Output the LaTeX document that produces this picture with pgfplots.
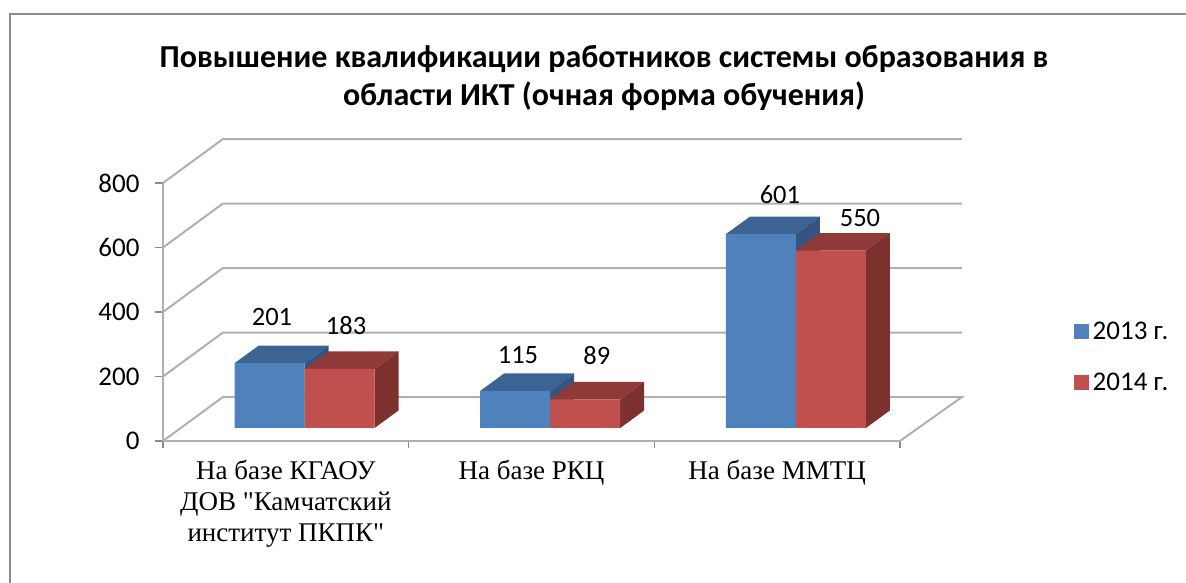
\documentclass[border=0pt]{standalone}
\usepackage{fontspec}
\setmainfont{Carlito}
\newfontfamily\catfont{Liberation Serif}
\usepackage{pgfplots}
\pgfplotsset{compat=1.18}
\definecolor{gridc}{HTML}{B0B0B0}
\definecolor{framec}{HTML}{8C8C8C}
\definecolor{blueF}{HTML}{4F81BD}
\definecolor{blueT}{HTML}{3D6393}
\definecolor{blueS}{HTML}{335580}
\definecolor{redF}{HTML}{C0504D}
\definecolor{redT}{HTML}{8F3A38}
\definecolor{redS}{HTML}{7D312F}
% depth of a bar in axis units
\def\dx{0.0977}\def\dy{54.3}\def\bw{0.285}
\newcommand\barfaces[4]{% left x, value, top colour, side colour
  \addplot[fill=#3,draw=none,forget plot] coordinates {(#1,#2) (#1+\bw,#2) (#1+\bw+\dx,#2+\dy) (#1+\dx,#2+\dy)};
  \addplot[fill=#4,draw=none,forget plot] coordinates {(#1+\bw,0) (#1+\bw+\dx,\dy) (#1+\bw+\dx,#2+\dy) (#1+\bw,#2)};
}
\pgfplotsset{squareleg/.style={legend image code/.code={\fill[##1] (0pt,-7.5pt) rectangle (15pt,7.5pt);\path (0pt,0pt) -- (17pt,0pt);}}}
\begin{document}
\begin{tikzpicture}[x=1pt,y=1pt]
\useasboundingbox (0,0) rectangle (1186,583);
\draw[framec,line width=1.6pt] (10,0) -- (10,569) -- (1186,569);
\node[align=center,font=\bfseries\fontsize{32}{38.5}\selectfont] at (604,505) {Повышение квалификации работников системы образования в\\области ИКТ (очная форма обучения)};
\begin{axis}[
  at={(163pt,142pt)},anchor=south west,scale only axis,
  width=737pt,height=258pt,
  xmin=0,xmax=3,ymin=0,ymax=800,clip=false,
  axis x line*=bottom,axis y line*=left,
  axis line style={gridc,line width=2pt},
  tick align=outside,
  ytick={0,200,400,600,800},
  xtick={0.5,1.5,2.5},
  minor xtick={0,1,2,3},
  xticklabels={{На базе КГАОУ\\ДОВ "Камчатский\\институт ПКПК"},{На базе РКЦ},{На базе ММТЦ}},
  major x tick style={draw=none},
  minor x tick style={framec,line width=1.2pt},
  minor tick length=7pt,
  major y tick style={framec,line width=1.2pt},
  major tick length=8pt,
  /pgf/number format/assume math mode=true,
  yticklabel style={font=\fontsize{27}{30}\selectfont,xshift=-12pt},
  xticklabel style={font=\catfont\fontsize{27}{31}\selectfont,align=center,anchor=north,yshift=-8pt},
]
\addplot[gridc,line width=2pt] coordinates {(0,0) (0.244,136.4) (3.252,136.4) (3,0)};
\addplot[gridc,line width=2pt] coordinates {(0,200) (0.244,336.4) (3.252,336.4)};
\addplot[gridc,line width=2pt] coordinates {(0,400) (0.244,536.4) (3.252,536.4)};
\addplot[gridc,line width=2pt] coordinates {(0,600) (0.244,736.4) (3.252,736.4)};
\addplot[gridc,line width=2pt] coordinates {(0,800) (0.244,936.4) (3.252,936.4)};
\end{axis}
\begin{axis}[
  at={(181.7pt,155pt)},anchor=south west,scale only axis,
  width=737pt,height=258pt,
  xmin=0,xmax=3,ymin=0,ymax=800,clip=false,hide axis,
  legend style={at={(1.21,0.42)},anchor=north west,draw=none,fill=none,
    font=\fontsize{27}{30}\selectfont,row sep=28pt,inner sep=0pt},
  legend cell align=left,
]
\barfaces{0.215}{201}{blueT}{blueS}
\barfaces{1.215}{115}{blueT}{blueS}
\barfaces{2.215}{601}{blueT}{blueS}
\addplot[ybar,bar width=70pt,bar shift=-35pt,fill=blueF,draw=none,squareleg] coordinates {(0.5,201) (1.5,115) (2.5,601)};
\addlegendentry{2013 г.}
\barfaces{0.5}{183}{redT}{redS}
\barfaces{1.5}{89}{redT}{redS}
\barfaces{2.5}{550}{redT}{redS}
\addplot[ybar,bar width=70pt,bar shift=35pt,fill=redF,draw=none,squareleg] coordinates {(0.5,183) (1.5,89) (2.5,550)};
\addlegendentry{2014 г.}
\begin{scope}[every node/.style={font=\fontsize{26.5}{30}\selectfont}]
\node at (axis cs:0.3676,344) {201};
\node at (axis cs:0.669,319) {183};
\node at (axis cs:1.369,226) {115};
\node at (axis cs:1.690,226) {89};
\node at (axis cs:2.435,722.5) {601};
\node at (axis cs:2.761,651) {550};
\end{scope}
\end{axis}
\end{tikzpicture}
\end{document}
